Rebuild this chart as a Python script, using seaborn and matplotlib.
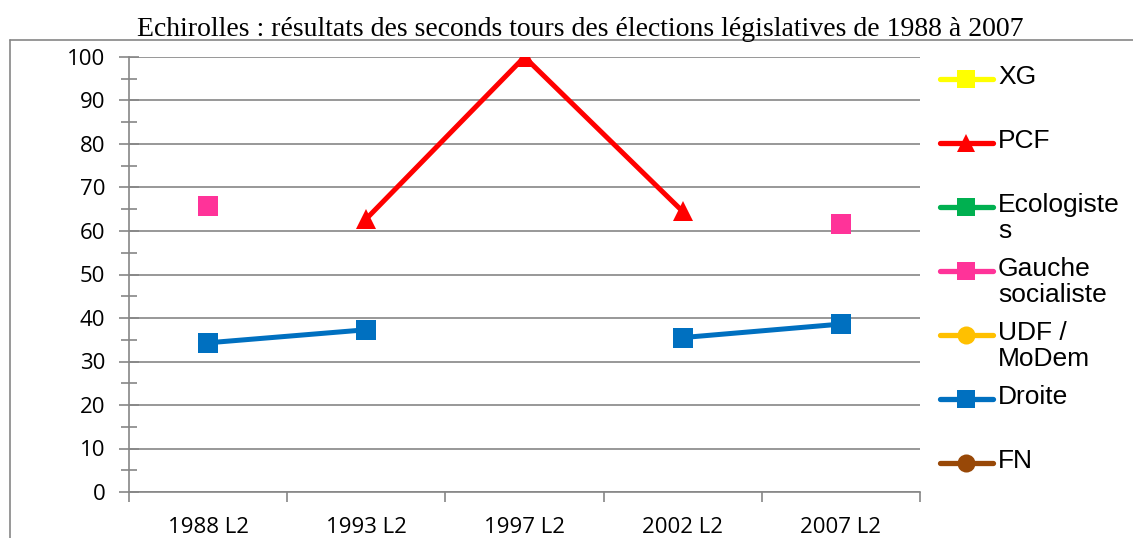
import numpy as np
import pandas as pd
import seaborn as sns
import matplotlib
matplotlib.use("Agg")
import matplotlib.pyplot as plt
from matplotlib.lines import Line2D

# data
categories = ["1988 L2", "1993 L2", "1997 L2", "2002 L2", "2007 L2"]
series_names = ["XG", "PCF", "Ecologistes", "Gauche socialiste", "UDF / MoDem", "Droite", "FN"]
legend_labels = ["XG", "PCF", "Ecologiste\ns", "Gauche\nsocialiste", "UDF /\nMoDem", "Droite", "FN"]
xg = [np.nan, np.nan, np.nan, np.nan, np.nan]
pcf = [np.nan, 62.8, 100.0, 64.5, np.nan]
ecologistes = [np.nan, np.nan, np.nan, np.nan, np.nan]
gauche_soc = [65.8, np.nan, np.nan, np.nan, 61.5]
udf_modem = [np.nan, np.nan, np.nan, np.nan, np.nan]
droite = [34.3, 37.3, np.nan, 35.5, 38.6]
fn = [np.nan, np.nan, np.nan, np.nan, np.nan]
values = [xg, pcf, ecologistes, gauche_soc, udf_modem, droite, fn]

colors = {"XG": "#FFFF00", "PCF": "#FF0000", "Ecologistes": "#00B050",
          "Gauche socialiste": "#FF3399", "UDF / MoDem": "#FFC000",
          "Droite": "#0070C0", "FN": "#984807"}
markers = {"XG": "s", "PCF": "^", "Ecologistes": "s", "Gauche socialiste": "s",
           "UDF / MoDem": "o", "Droite": "s", "FN": "o"}

# long format, one "segment" per run of non-missing values so gaps stay gaps
rows = []
for name, vals in zip(series_names, values):
    seg = 0
    for i, v in enumerate(vals):
        if np.isnan(v):
            seg += 1
            continue
        rows.append({"serie": name, "pos": i, "value": v, "segment": f"{name}-{seg}"})
df = pd.DataFrame(rows)

sns.set_style("white")
W, H = 1133, 538
fig = plt.figure(figsize=(W / 100, H / 100), dpi=100)
ax = fig.add_axes([129 / W, 1 - 492 / H, (920 - 129) / W, (492 - 57) / H])

present = [s for s in series_names if s in set(df["serie"])]
sns.lineplot(data=df, x="pos", y="value", hue="serie", style="serie",
             units="segment", estimator=None, hue_order=present, style_order=present,
             palette={k: colors[k] for k in present},
             markers={k: markers[k] for k in present}, dashes=False,
             linewidth=3.6, markersize=14, markeredgewidth=0, legend=False,
             sort=False, ax=ax, zorder=3)

grey = "#868686"
ax.set_xlim(-0.5, len(categories) - 0.5)
ax.set_ylim(0, 100)
ax.set_xticks(np.arange(-0.5, len(categories)), labels=[""] * (len(categories) + 1))
ax.set_xticks(range(len(categories)), labels=categories, minor=True)
ax.set_yticks(range(0, 101, 10))
ax.set_yticks(range(5, 100, 10), minor=True)
ax.set_xlabel("")
ax.set_ylabel("")
ax.yaxis.grid(True, which="major", color=grey, linewidth=1.2)
ax.xaxis.grid(False)
for s in ["top", "right"]:
    ax.spines[s].set_visible(False)
for s in ["left", "bottom"]:
    ax.spines[s].set_color(grey)
    ax.spines[s].set_linewidth(1.2)
ax.tick_params(axis="x", which="major", bottom=True, direction="out", length=7,
               color=grey, width=1.2)
ax.tick_params(axis="x", which="minor", bottom=True, length=0, pad=18, labelsize=16,
               labelcolor="black")
ax.tick_params(axis="y", which="both", left=True, direction="inout", color=grey, width=1.2)
ax.tick_params(axis="y", which="major", length=14, pad=10, labelsize=16, labelcolor="black")
ax.tick_params(axis="y", which="minor", length=12)
for lab in ax.get_xticklabels(minor=True) + ax.get_yticklabels():
    lab.set_family("Open Sans")

fig.text(0.512, 1 - 30 / H,
         "Echirolles : résultats des seconds tours des élections législatives de 1988 à 2007",
         ha="center", va="center", family="Liberation Serif", fontsize=20, color="black")

# outer frame
fig.add_artist(Line2D([10 / W, 10 / W], [0, 1 - 40 / H], color=grey, lw=1.2))
fig.add_artist(Line2D([10 / W, 1], [1 - 40 / H, 1 - 40 / H], color=grey, lw=1.2))

# legend drawn by hand so the key sits on the first line of wrapped labels
lax = fig.add_axes([935 / W, 1 - 490 / H, 198 / W, 440 / H])
lax.set_xlim(0, 198)
lax.set_ylim(490, 50)
lax.axis("off")
for i, (name, lab) in enumerate(zip(series_names, legend_labels)):
    y = 79 + i * 64
    lax.plot([5, 58], [y, y], color=colors[name], lw=3.8, solid_capstyle="round")
    lax.plot([31], [y], marker=markers[name], color=colors[name], markersize=13, mew=0)
    lax.text(63, y - 14, lab, va="top", ha="left", family="Liberation Sans",
             fontsize=19, linespacing=1.1, color="black")

fig.savefig("out.png", dpi=100)
